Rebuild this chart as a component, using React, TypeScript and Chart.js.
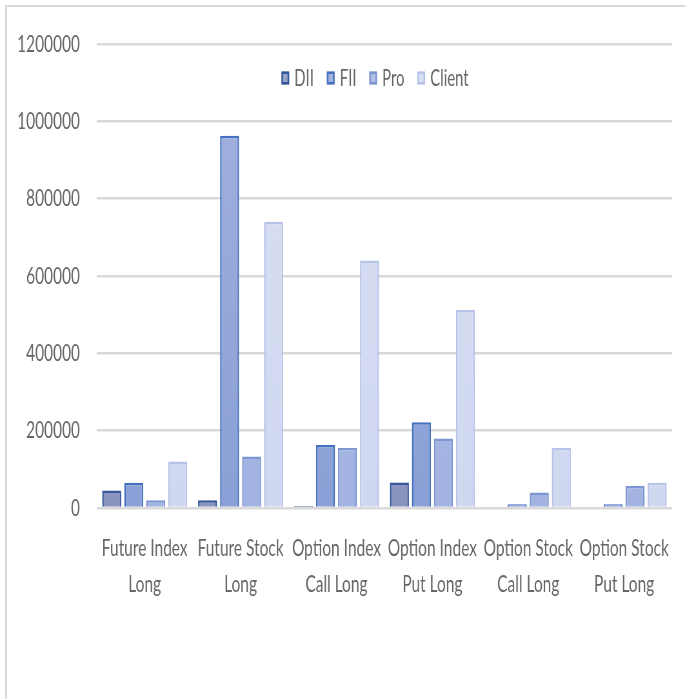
import React, { useEffect, useRef } from "react";
import { Chart, registerables } from "chart.js";

Chart.register(...registerables);

// Categories (two-line labels) and series values
const categories: string[][] = [
  ["Future Index", "Long"],
  ["Future Stock", "Long"],
  ["Option Index", "Call Long"],
  ["Option Index", "Put Long"],
  ["Option Stock", "Call Long"],
  ["Option Stock", "Put Long"],
];

const seriesNames = ["DII", "FII", "Pro", "Client"];

const diiValues = [45000, 20000, 5000, 66000, 0, 0];
const fiiValues = [65000, 963000, 163000, 222000, 10000, 10000];
const proValues = [20000, 133000, 155000, 180000, 40000, 57000];
const clientValues = [120000, 740000, 640000, 512000, 155000, 65000];

const yTicks = [0, 200000, 400000, 600000, 800000, 1000000, 1200000];

// Fill (top, bottom) and outline colours per series
const fillTop = ["#97a2c8", "#a3b2de", "#b3c0e6", "#dae0f3"];
const fillBottom = ["#8995be", "#8aa0d6", "#a2b3e2", "#d0d8f0"];
const outline = ["#34569a", "#4570c0", "#7e96d2", "#b6c3e8"];

// The drawing is laid out on a wider canvas and squeezed horizontally
const SQUEEZE = 0.645;
const VIEW_W = 685;
const VIEW_H = 699;
const CANVAS_W = Math.round(VIEW_W / SQUEEZE);

const FONT = "Lato, 'Open Sans', sans-serif";
const TEXT_COLOR = "#666666";
const GRID_COLOR = "#d9d9d9";

const legendPlugin = {
  id: "insideLegend",
  afterDraw(chart: Chart) {
    const ctx = chart.ctx;
    const centerX = 375 / SQUEEZE;
    const centerY = 78;
    const boxW = 12;
    const boxH = 13;
    const boxGap = 8;
    const itemGap = 20;
    ctx.save();
    ctx.font = `23px ${FONT}`;
    ctx.textBaseline = "middle";
    ctx.textAlign = "left";
    const widths = seriesNames.map((n) => ctx.measureText(n).width);
    const total =
      widths.reduce((a, w) => a + boxW + boxGap + w, 0) +
      itemGap * (seriesNames.length - 1);
    let x = centerX - total / 2;
    seriesNames.forEach((name, i) => {
      ctx.fillStyle = fillTop[i];
      ctx.fillRect(x, centerY - boxH / 2, boxW, boxH);
      ctx.strokeStyle = outline[i];
      ctx.lineWidth = 2.5;
      ctx.strokeRect(x + 1.25, centerY - boxH / 2 + 1.25, boxW - 2.5, boxH - 2.5);
      ctx.fillStyle = TEXT_COLOR;
      ctx.fillText(name, x + boxW + boxGap, centerY + 1);
      x += boxW + boxGap + widths[i] + itemGap;
    });
    ctx.restore();
  },
};

function barFill(i: number) {
  return (c: any) => {
    const area = c.chart.chartArea;
    if (!area) return fillTop[i];
    const g = c.chart.ctx.createLinearGradient(0, area.top, 0, area.bottom);
    g.addColorStop(0, fillTop[i]);
    g.addColorStop(1, fillBottom[i]);
    return g;
  };
}

export default function App() {
  const canvasRef = useRef<HTMLCanvasElement | null>(null);

  useEffect(() => {
    const canvas = canvasRef.current;
    if (!canvas) return;
    const seriesValues = [diiValues, fiiValues, proValues, clientValues];
    const chart = new Chart(canvas, {
      type: "bar",
      data: {
        labels: categories,
        datasets: seriesNames.map((name, i) => ({
          label: name,
          data: seriesValues[i],
          backgroundColor: barFill(i),
          borderColor: outline[i],
          borderWidth: 2.5,
          borderSkipped: "start" as const,
          categoryPercentage: 0.918,
          barPercentage: 0.865,
        })),
      },
      options: {
        responsive: false,
        animation: false,
        devicePixelRatio: 1,
        layout: {
          padding: { top: 44, right: 20, bottom: 81, left: 0 },
        },
        plugins: {
          legend: { display: false },
          tooltip: { enabled: false },
        },
        scales: {
          x: {
            grid: { display: false, drawTicks: false },
            border: { display: false },
            ticks: {
              color: TEXT_COLOR,
              font: { family: FONT, size: 24, lineHeight: 1.5 },
              padding: 22,
              maxRotation: 0,
              autoSkip: false,
            },
            afterFit(scale: any) {
              scale.height = 110;
            },
          },
          y: {
            min: 0,
            max: 1200000,
            afterBuildTicks(scale: any) {
              scale.ticks = yTicks.map((v) => ({ value: v }));
            },
            grid: {
              color: GRID_COLOR,
              lineWidth: 2.5,
              drawTicks: false,
            },
            border: { display: false },
            ticks: {
              color: TEXT_COLOR,
              font: { family: FONT, size: 24 },
              padding: 26,
              callback: (v: any) => String(v),
            },
            afterFit(scale: any) {
              scale.width = 150;
            },
          },
        },
      },
      plugins: [legendPlugin],
    });
    return () => chart.destroy();
  }, []);

  return (
    <div
      style={{
        position: "fixed",
        left: 0,
        top: 0,
        width: VIEW_W,
        height: VIEW_H,
        overflow: "hidden",
        background: "#ffffff",
      }}
    >
      <div
        style={{
          position: "absolute",
          left: 5,
          top: 5,
          width: VIEW_W + 20,
          height: VIEW_H + 20,
          borderLeft: `2px solid ${GRID_COLOR}`,
          borderTop: `2px solid ${GRID_COLOR}`,
        }}
      />
      <div
        style={{
          position: "absolute",
          left: 0,
          top: 0,
          width: CANVAS_W,
          height: VIEW_H,
          transform: `scaleX(${SQUEEZE})`,
          transformOrigin: "0 0",
        }}
      >
        <canvas ref={canvasRef} width={CANVAS_W} height={VIEW_H} />
      </div>
    </div>
  );
}
